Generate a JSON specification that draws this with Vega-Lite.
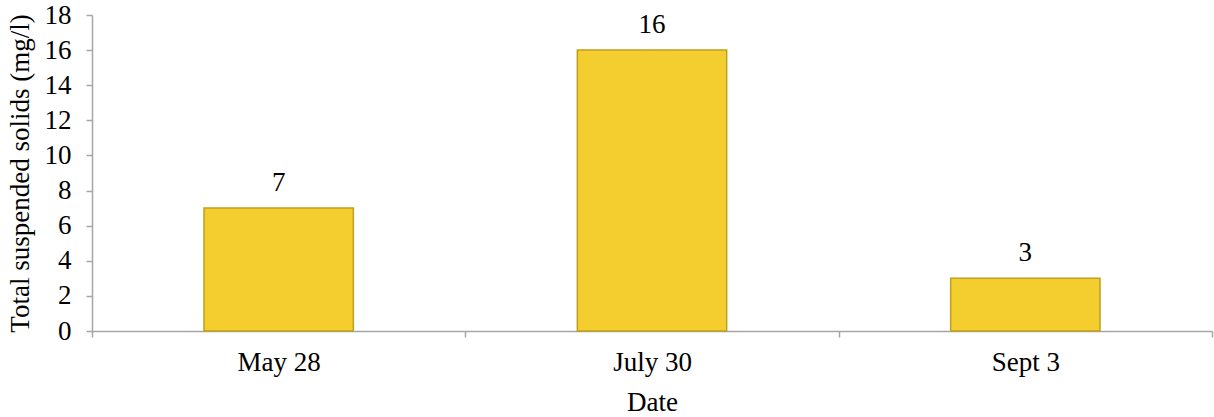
{
  "$schema": "https://vega.github.io/schema/vega-lite/v6.json",
  "width": 1120,
  "height": 316,
  "autosize": {"type": "none"},
  "padding": {"left": 92, "top": 15, "right": 2, "bottom": 86},
  "background": "white",
  "config": {
    "view": {"stroke": null},
    "font": "Liberation Serif"
  },
  "data": {
    "values": [
      {"date": "May 28", "tss": 7},
      {"date": "July 30", "tss": 16},
      {"date": "Sept 3", "tss": 3}
    ]
  },
  "encoding": {
    "x": {
      "field": "date",
      "type": "nominal",
      "sort": null,
      "scale": {"paddingInner": 0, "paddingOuter": 0},
      "axis": {
        "title": "Date",
        "labelAngle": 0,
        "labelFont": "Liberation Serif",
        "labelFontSize": 27,
        "labelColor": "#000000",
        "labelPadding": 12,
        "titleFont": "Liberation Serif",
        "titleFontSize": 27,
        "titleFontWeight": "normal",
        "titleColor": "#000000",
        "titlePadding": 14,
        "domainColor": "#A6A6A6",
        "domainWidth": 1.5,
        "tickColor": "#A6A6A6",
        "tickWidth": 1.5,
        "tickSize": 6,
        "tickBand": "extent",
        "grid": false
      }
    },
    "y": {
      "field": "tss",
      "type": "quantitative",
      "scale": {"domain": [0, 18], "nice": false},
      "axis": {
        "title": "Total suspended solids (mg/l)",
        "values": [0, 2, 4, 6, 8, 10, 12, 14, 16, 18],
        "labelFont": "Liberation Serif",
        "labelFontSize": 27,
        "labelColor": "#000000",
        "labelPadding": 15,
        "titleFont": "Liberation Serif",
        "titleFontSize": 27,
        "titleFontWeight": "normal",
        "titleColor": "#000000",
        "titlePadding": 10,
        "domainColor": "#A6A6A6",
        "domainWidth": 1.5,
        "tickColor": "#A6A6A6",
        "tickWidth": 1.5,
        "tickSize": 6,
        "grid": false
      }
    }
  },
  "layer": [
    {
      "mark": {
        "type": "bar",
        "width": {"band": 0.4},
        "fill": "#F4CD2E",
        "stroke": "#BF9F1E",
        "strokeWidth": 1.5
      }
    },
    {
      "mark": {
        "type": "text",
        "baseline": "alphabetic",
        "dy": -17,
        "font": "Liberation Serif",
        "fontSize": 27,
        "color": "#000000"
      },
      "encoding": {"text": {"field": "tss", "type": "quantitative"}}
    }
  ]
}
